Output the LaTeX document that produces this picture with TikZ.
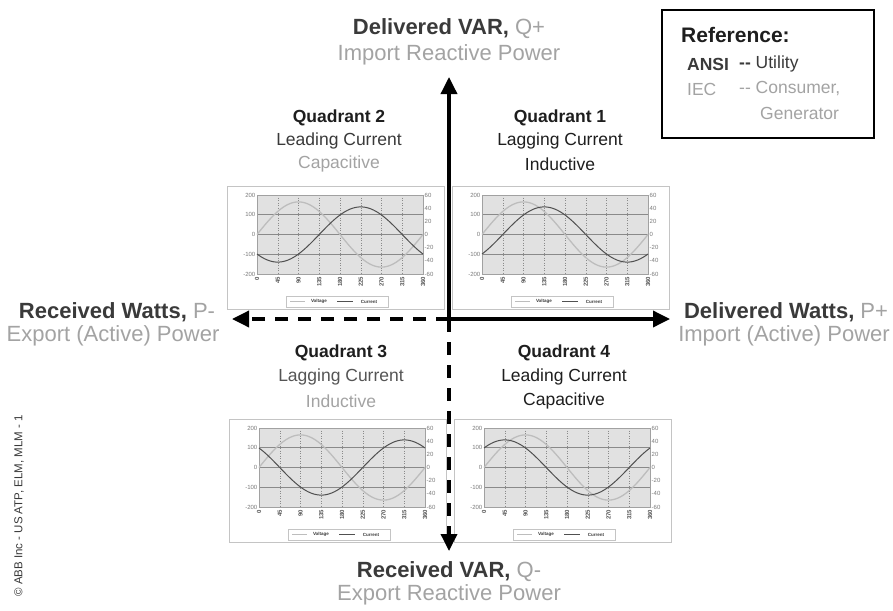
\documentclass[tikz,border=0pt]{standalone}
\usepackage{fontspec}
\setmainfont{Liberation Sans}
\usetikzlibrary{arrows.meta}
\definecolor{dk}{HTML}{3A3A3A}
\definecolor{mid}{HTML}{555555}
\definecolor{lt}{HTML}{A3A3A3}
\definecolor{qt}{HTML}{1E1E1E}
\definecolor{plotbg}{HTML}{E1E1E1}
\definecolor{framec}{HTML}{C4C4C4}
\definecolor{gridc}{HTML}{8A8A8A}
\definecolor{voltc}{HTML}{BDBDBD}
\definecolor{currc}{HTML}{505050}
\definecolor{tickc}{HTML}{7A7A7A}
\tikzset{
  axisline/.style={line width=3.5pt,black},
  axisdash/.style={axisline,dash pattern=on 13pt off 10pt},
  tipA/.style={-{Triangle[length=17pt,width=16pt]}},
  bigtxt/.style={font=\fontsize{22}{24}\selectfont,inner sep=0pt},
  qtxt/.style={font=\fontsize{17.5}{20}\selectfont,inner sep=0pt},
  reftxt/.style={font=\fontsize{17.5}{19}\selectfont,inner sep=0pt,anchor=west},
  chartframe/.style={draw=framec,line width=0.8pt,fill=white},
  plotframe/.style={draw=gridc!80,line width=0.5pt},
  hgrid/.style={draw=gridc,line width=0.8pt},
  vgrid/.style={draw=gridc,line width=0.5pt,dotted},
  volt/.style={draw=voltc,line width=1.3pt},
  curr/.style={draw=currc,line width=1pt},
  ticklab/.style={font=\fontsize{6}{6}\selectfont,text=tickc,inner sep=0.5pt},
  xlab/.style={font=\bfseries\fontsize{6}{6}\selectfont,text=mid,inner sep=0.5pt,rotate=90,anchor=east},
  legtxt/.style={font=\bfseries\fontsize{4.5}{5}\selectfont,text=dk,inner sep=0pt},
}
\newcommand\qchart[4]{%
\begin{scope}[shift={(#2,#3)}]
  \draw[chartframe] (-30,-9) rectangle (187,114);
  \fill[plotbg] (0,0) rectangle (166,79);
  \foreach \k in {1,...,7} \draw[vgrid] ({\k*20.75},0) -- ({\k*20.75},79);
  \foreach \v in {100,0,-100} \draw[hgrid] (0,{39.5-\v*0.1975}) -- (166,{39.5-\v*0.1975});
  \draw[plotframe] (0,0) rectangle (166,79);
  \draw[volt] plot[domain=0:360,samples=91,smooth] ({\x/360*166},{39.5-32.6*sin(\x)});
  \draw[curr] plot[domain=0:360,samples=91,smooth] ({\x/360*166},{39.5-27.6*sin(\x-#4)});
  \foreach \v [count=\i] in {200,100,0,-100,-200}
    \node[ticklab,anchor=east] (#1-l\i) at (-1,{39.5-\v*0.1975}) {\v};
  \foreach \v [count=\i] in {60,40,20,0,-20,-40,-60}
    \node[ticklab,anchor=west] (#1-r\i) at (167,{39.5-\v*0.65833}) {\v};
  \foreach \d [count=\i] in {0,45,90,135,180,225,270,315,360}
    \node[xlab] (#1-x\i) at ({\d/360*166},81) {\d};
  \draw[draw=framec,fill=white,line width=0.6pt] (29,101) rectangle (131,112);
  \draw[voltc,line width=0.8pt] (33,106.5) -- (48,106.5);
  \node[legtxt] (#1-lv) at (62,106.5) {Voltage};
  \draw[currc,line width=0.8pt] (80,106.5) -- (96,106.5);
  \node[legtxt] (#1-lc) at (112,106.5) {Current};
\end{scope}}
\begin{document}
\begin{tikzpicture}[x=1pt,y=-1pt]
\useasboundingbox (0,0) rectangle (893,610);
\fill[white] (0,0) rectangle (893,610);

% charts
\qchart{c2}{257}{195}{135}
\qchart{c1}{482}{195}{45}
\qchart{c3}{259}{428}{-135}
\qchart{c4}{484}{428}{-45}

% axes
\coordinate (O) at (449,319);
\coordinate (tipT) at (449,77);
\coordinate (tipB) at (449,551);
\coordinate (tipL) at (232,319);
\coordinate (tipR) at (670,319);
\draw[axisdash,tipA] (O) -- (tipL);
\draw[axisdash,tipA] (O) -- (tipB);
\draw[axisline,tipA] (O) -- (tipR);
\draw[axisline,tipA] (O) -- (tipT);

% axis labels
\node[bigtxt] (qplus) at (449,29) {\textbf{\color{dk}Delivered VAR,} \color{lt}Q+};
\node[bigtxt,text=lt] (qplus2) at (449,55) {Import Reactive Power};
\node[bigtxt] (qminus) at (449,572) {\textbf{\color{dk}Received VAR,} \color{lt}Q-};
\node[bigtxt,text=lt] (qminus2) at (449,595) {Export Reactive Power};
\node[bigtxt] (pminus) at (117,312) {\textbf{\color{dk}Received Watts,} \color{lt}P-};
\node[bigtxt,text=lt] (pminus2) at (113,336) {Export (Active) Power};
\node[bigtxt] (pplus) at (786,312) {\textbf{\color{dk}Delivered Watts,} \color{lt}P+};
\node[bigtxt,text=lt] (pplus2) at (784,336) {Import (Active) Power};

% quadrant labels
\node[qtxt,text=qt,font=\bfseries\fontsize{17.5}{20}\selectfont] (q2a) at (339,118) {Quadrant 2};
\node[qtxt,text=dk] (q2b) at (339,141) {Leading Current};
\node[qtxt,text=lt] (q2c) at (339,164) {Capacitive};
\node[qtxt,text=qt,font=\bfseries\fontsize{17.5}{20}\selectfont] (q1a) at (560,118) {Quadrant 1};
\node[qtxt,text=qt] (q1b) at (560,141) {Lagging Current};
\node[qtxt,text=qt] (q1c) at (560,164) {Inductive};
\node[qtxt,text=qt,font=\bfseries\fontsize{17.5}{20}\selectfont] (q3a) at (341,353) {Quadrant 3};
\node[qtxt,text=mid] (q3b) at (341,377) {Lagging Current};
\node[qtxt,text=lt] (q3c) at (341,401) {Inductive};
\node[qtxt,text=qt,font=\bfseries\fontsize{17.5}{20}\selectfont] (q4a) at (564,353) {Quadrant 4};
\node[qtxt,text=qt] (q4b) at (564,377) {Leading Current};
\node[qtxt,text=qt] (q4c) at (564,401) {Capacitive};

% reference box
\draw[line width=1.6pt,black] (662,10) rectangle (874,138);
\node[reftxt,font=\bfseries\fontsize{21}{23}\selectfont,text=qt] (refT) at (681,35) {Reference:};
\node[reftxt,font=\bfseries\fontsize{17.5}{19}\selectfont,text=dk] (ansi) at (687,64) {ANSI};
\node[reftxt,text=dk] (ansid) at (739,64) {\textbf{-{}-} Utility};
\node[reftxt,text=lt] (iec) at (687,89) {IEC};
\node[reftxt,text=lt] (iecd) at (739,89) {-{}- Consumer,};
\node[reftxt,text=lt] (gen) at (760,113) {Generator};

% copyright
\node[rotate=90,font=\fontsize{11.5}{12}\selectfont,text=dk,inner sep=0pt] (copy) at (19,506) {© ABB Inc - US ATP, ELM, MLM - 1};
\end{tikzpicture}
\end{document}
